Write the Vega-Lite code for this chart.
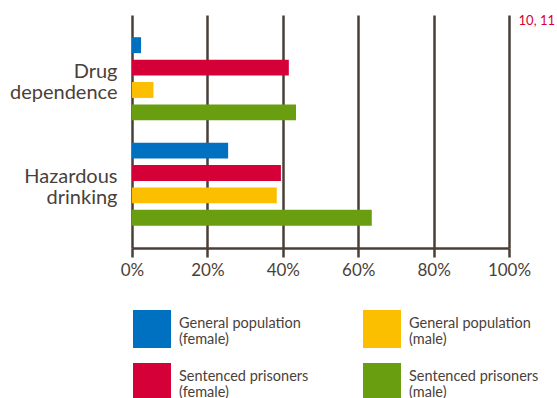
{
  "$schema": "https://vega.github.io/schema/vega-lite/v6.json",
  "width": 377,
  "height": 233,
  "autosize": {"type": "none"},
  "padding": {"left": 132, "top": 15, "right": 48, "bottom": 150},
  "background": "#ffffff",
  "title": {
    "text": "10, 11",
    "anchor": "end",
    "frame": "group",
    "orient": "top",
    "offset": 0,
    "dx": 46,
    "dy": 26,
    "baseline": "bottom",
    "color": "#d50037",
    "font": "Lato",
    "fontSize": 13,
    "fontWeight": "normal"
  },
  "data": {
    "values": [
      {"measure": "Drug dependence", "group": "General population (female)", "value": 2.4},
      {"measure": "Drug dependence", "group": "Sentenced prisoners (female)", "value": 41.6},
      {"measure": "Drug dependence", "group": "General population (male)", "value": 5.7},
      {"measure": "Drug dependence", "group": "Sentenced prisoners (male)", "value": 43.5},
      {"measure": "Hazardous drinking", "group": "General population (female)", "value": 25.5},
      {"measure": "Hazardous drinking", "group": "Sentenced prisoners (female)", "value": 39.5},
      {"measure": "Hazardous drinking", "group": "General population (male)", "value": 38.4},
      {"measure": "Hazardous drinking", "group": "Sentenced prisoners (male)", "value": 63.6}
    ]
  },
  "mark": {"type": "bar", "cornerRadius": 0},
  "encoding": {
    "y": {
      "field": "measure",
      "type": "nominal",
      "sort": ["Drug dependence", "Hazardous drinking"],
      "scale": {"paddingInner": 0.15, "paddingOuter": 0.18},
      "axis": {
        "title": null,
        "domain": false,
        "ticks": false,
        "labelExpr": "split(datum.label, ' ')",
        "labelFont": "Lato",
        "labelFontSize": 20,
        "labelColor": "#4a3f3a",
        "labelPadding": 15,
        "labelLineHeight": 21,
        "labelOffset": -7,
        "labelLimit": 200
      }
    },
    "yOffset": {
      "field": "group",
      "type": "nominal",
      "sort": ["General population (female)", "Sentenced prisoners (female)", "General population (male)", "Sentenced prisoners (male)"],
      "scale": {"paddingInner": 0.29, "paddingOuter": 0.145}
    },
    "x": {
      "field": "value",
      "type": "quantitative",
      "scale": {"domain": [0, 100], "nice": false},
      "axis": {
        "title": null,
        "values": [0, 20, 40, 60, 80, 100],
        "labelExpr": "datum.value + '%'",
        "labelFlush": false,
        "labelFont": "Lato",
        "labelFontSize": 17,
        "labelColor": "#4a3f3a",
        "labelPadding": 5,
        "grid": true,
        "gridColor": "#4a3f38",
        "gridWidth": 2.5,
        "gridOpacity": 1,
        "domainColor": "#4a3f38",
        "domainWidth": 2.5,
        "tickColor": "#4a3f38",
        "tickWidth": 2.5,
        "tickSize": 9,
        "zindex": 0
      }
    },
    "color": {
      "field": "group",
      "type": "nominal",
      "scale": {
        "domain": ["General population (female)", "General population (male)", "Sentenced prisoners (female)", "Sentenced prisoners (male)"],
        "range": ["#0070c0", "#fbbf00", "#d50037", "#6a9e11"]
      },
      "legend": {
        "title": null,
        "orient": "none",
        "direction": "horizontal",
        "legendX": 1,
        "legendY": 295,
        "columns": 2,
        "columnPadding": 54,
        "rowPadding": 15,
        "symbolType": "square",
        "symbolSize": 1444,
        "symbolStrokeWidth": 0,
        "symbolOpacity": 1,
        "labelOffset": 8,
        "labelFont": "Lato",
        "labelFontSize": 14.5,
        "labelColor": "#4a3f3a",
        "labelLimit": 300,
        "labelExpr": "[slice(datum.label, 0, indexof(datum.label, ' (')), slice(datum.label, indexof(datum.label, ' (') + 1)]",
        "encode": {
          "labels": {
            "update": {
              "lineHeight": {"value": 16},
              "dy": {"value": -5}
            }
          }
        }
      }
    }
  },
  "config": {
    "view": {"stroke": null}
  }
}
